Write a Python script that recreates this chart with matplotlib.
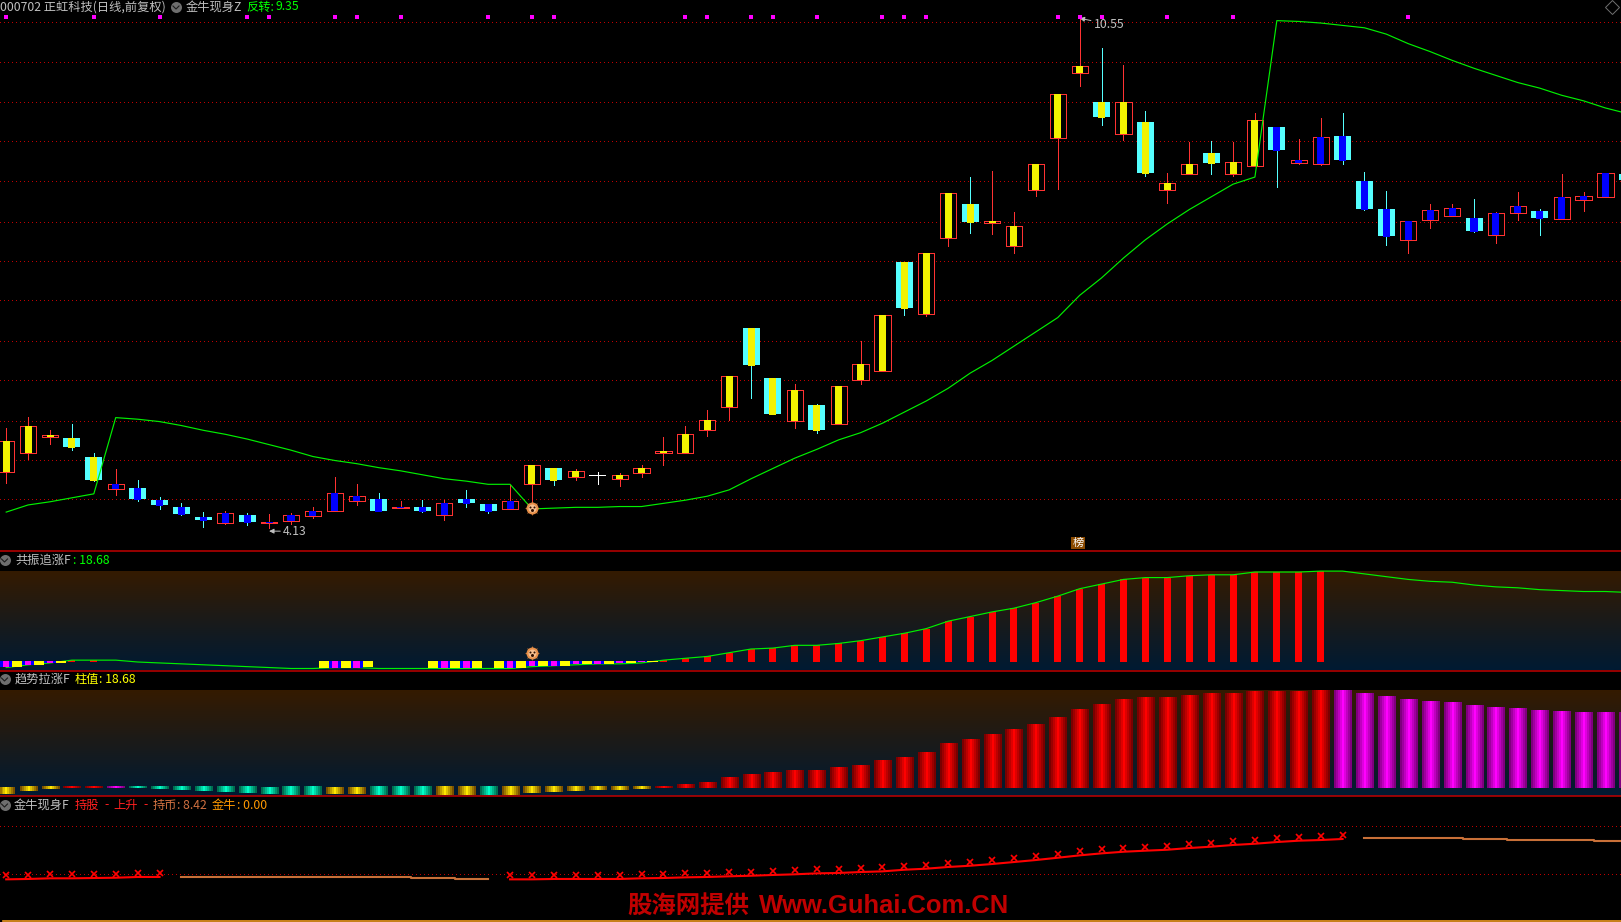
import numpy as np
import matplotlib
matplotlib.use('Agg')
import matplotlib.pyplot as plt
from matplotlib.transforms import offset_copy

plt.rcParams['font.family'] = ['Noto Sans CJK SC', 'DejaVu Sans']

# ---- main panel, prices
high = [5.39,5.53,5.37,5.44,5.08,4.87,4.73,4.52,4.44,4.33,4.35,4.32,4.30,4.32,4.40,4.77,4.69,4.57,4.47,4.48,4.48,4.61,4.43,4.67,4.92,
        4.88,4.87,4.83,4.82,4.92,5.27,5.41,5.61,6.04,6.65,6.02,5.94,5.69,5.92,6.48,6.81,7.48,7.59,8.35,8.55,8.63,8.11,8.71,9.60,10.55,
        10.18,9.96,9.38,8.60,8.99,9.00,8.99,9.36,9.18,9.03,9.29,9.36,8.61,8.37,8.00,8.21,8.21,8.27,8.11,8.36,8.15,8.59,8.36,8.60,8.59]
low = [4.70,5.00,5.19,5.11,4.72,4.54,4.47,4.37,4.29,4.14,4.18,4.17,4.13,4.18,4.25,4.34,4.42,4.34,4.38,4.33,4.23,4.39,4.32,4.37,4.45,
       4.67,4.73,4.69,4.66,4.77,4.92,5.07,5.29,5.49,5.77,5.56,5.39,5.32,5.44,5.94,6.11,6.81,6.80,7.68,7.84,7.83,7.59,8.31,8.40,9.70,
       9.21,9.02,8.56,8.22,8.59,8.59,8.56,8.69,8.42,8.71,8.70,8.71,8.13,7.69,7.59,7.91,8.06,7.86,7.72,8.01,7.82,8.02,8.12,8.30,8.51]
body_top = [5.22,5.41,5.30,5.26,5.03,4.69,4.63,4.48,4.39,4.27,4.32,4.29,4.20,4.29,4.35,4.57,4.53,4.49,4.40,4.39,4.45,4.49,4.43,4.47,4.92,
            4.88,4.85,4.80,4.80,4.88,5.10,5.31,5.49,6.04,6.65,6.02,5.87,5.68,5.92,6.19,6.81,7.48,7.59,8.35,8.21,8.00,7.93,8.71,9.60,9.95,
            9.49,9.50,9.24,8.47,8.71,8.85,8.74,9.27,9.18,8.76,9.05,9.07,8.50,8.15,8.00,8.13,8.16,8.03,8.10,8.18,8.12,8.30,8.31,8.60,8.59]
body_bot = [4.84,5.08,5.27,5.15,4.74,4.62,4.49,4.42,4.30,4.23,4.19,4.20,4.19,4.22,4.28,4.34,4.47,4.35,4.38,4.35,4.29,4.45,4.34,4.37,4.69,
            4.73,4.77,4.78,4.75,4.82,5.07,5.07,5.37,5.66,6.18,5.56,5.48,5.37,5.44,6.00,6.11,6.90,6.82,7.78,7.98,7.97,7.68,8.39,9.04,9.86,
            9.31,9.09,8.60,8.39,8.59,8.73,8.59,8.69,8.89,8.73,8.71,8.76,8.15,7.81,7.76,8.01,8.06,7.87,7.82,8.10,8.03,8.02,8.26,8.30,8.51]
# r = up, c = down, w = flat
body_kind = ("rrrcc" "rcccc" "rcrrr" "rrcrc" "rccrr" "crwrr" "rrrrc" "crcrr"
             "rcrrc" "rrrrr" "crcrr" "crrcr" "rcccr" "rrcrr" "crrrc")
# y = yellow core, b = blue core
core_kind = ("yyyyy" "bbbbb" "bbbbb" "bbbbb" "bbbby" "yyyyy" "yyyyy" "yyyyy"
             "yyyyy" "yyyyy" "yyyyy" "yyybb" "bbbbb" "bbbbb" "bbbbb")
fanzhuan = [4.33,4.42,4.46,4.51,4.56,5.52,5.50,5.47,5.42,5.36,5.31,5.25,5.18,5.11,5.03,4.98,4.94,4.89,4.85,4.80,4.75,4.72,4.68,4.68,4.37,
            4.38,4.39,4.39,4.40,4.40,4.44,4.48,4.53,4.61,4.75,4.88,5.01,5.12,5.24,5.33,5.45,5.59,5.73,5.89,6.08,6.24,6.42,6.60,6.78,7.06,
            7.28,7.53,7.76,7.96,8.14,8.30,8.46,8.55,10.52,10.51,10.49,10.46,10.43,10.35,10.23,10.13,10.02,9.92,9.83,9.74,9.67,9.58,9.51,9.42,9.35]
top_marks = [0,4,7,11,12,15,16,18,22,24,25,31,32,34,35,37,40,41,42,48,49,50,53,56,64]
main_grid = [10.50,10.00,9.49,9.00,8.50,7.99,7.49,7.00,6.49,5.99,5.48,4.98,4.49]

# ---- 共振追涨F / 趋势拉涨F share the same series
trend = [-1.47,-0.74,-0.25,0.49,0.49,0.49,0.00,-0.25,-0.49,-0.74,
         -0.98,-1.23,-1.47,-1.72,-1.72,-1.47,-1.47,-1.72,-1.72,-1.72,
         -1.72,-1.72,-1.72,-1.72,-1.23,-0.98,-0.74,-0.49,-0.49,-0.25,
         0.49,0.98,1.47,2.46,3.44,3.69,4.42,4.42,4.92,5.65,
         6.64,7.62,8.85,10.82,12.04,13.27,14.26,15.73,17.45,19.42,
         20.65,21.88,22.37,22.37,22.86,23.11,23.11,23.84,23.84,23.84,
         24.09,24.09,23.35,22.61,21.88,21.38,21.14,20.40,19.91,19.66,19.17,18.93,18.68,18.68,18.44]
trend_kind = ("gggrr" "mtttt" "ttttt" "ggttt" "ggtgg" "ggggg"
              "rrrrr" "rrrrr" "rrrrr" "rrrrr" "rrrrr" "rrrrr" "rmmmm" "mmmmm" "mmmmm")
block_magenta_x = [0,1,2,15,16,20,21,23,24,25,26,27,28,29]
block_magenta_v = [-1.59,-1.06,-0.53,-1.86,-1.86,-1.86,-1.86,-1.86,-1.33,-1.33,-0.80,-0.80,-0.53,-0.27]
block_yellow_x = [0.5,1.5,2.5,14.5,15.5,16.5,19.5,20.5,21.5,22.5,23.5,24.5,25.5,26.5,27.5,28.5,29.5]
block_yellow_v = [-1.59,-1.06,-0.53,-1.86,-1.86,-1.59,-1.86,-1.86,-1.86,-1.86,-1.86,-1.33,-1.33,-0.80,-0.80,-0.53,-0.27]

# ---- 金牛现身F
hold = [4.40,4.44,4.51,4.51,4.54,4.57,4.65,4.65,
        4.65,4.65,4.65,4.65,4.65,4.65,4.65,4.65,4.65,4.65,4.65,4.54,4.54,4.44,4.44,
        4.40,4.40,4.44,4.44,4.44,4.44,4.51,4.54,4.61,4.65,4.72,4.78,4.86,4.93,5.03,5.07,5.17,5.24,5.41,5.52,5.70,5.83,6.01,
        6.22,6.43,6.67,6.92,7.13,7.30,7.41,7.51,7.69,7.83,8.01,8.14,8.32,8.46,8.53,8.64,
        8.74,8.74,8.74,8.74,8.74,8.64,8.64,8.53,8.53,8.53,8.53,8.42,8.42]
hold_segments = [(0,7,'red'),(8,22,'brown'),(23,61,'red'),(62,74,'brown')]
hold_grid = [10,5]

W, H = 1621, 922
PX = 1 / 100 * 72   # one pixel in points
RED = '#ff3232'
CYAN = '#55ffff'
GRID = '#c00000'
GREEN = '#00f000'


def panel(top, bottom, ylim):
    ax = fig.add_axes([0, 1 - bottom / H, 1, (bottom - top) / H])
    ax.set_xlim(-0.283, 73.71)
    ax.set_ylim(*ylim)
    ax.axis('off')
    return ax


def background(ax):
    c0 = np.array([0x35, 0x1b, 0x00]) / 255
    c1 = np.array([0x00, 0x1a, 0x33]) / 255
    t = np.linspace(0, 1, 100)[:, None, None]
    img = c0[None, None, :] * (1 - t) + c1[None, None, :] * t
    x0, x1 = ax.get_xlim()
    y0, y1 = ax.get_ylim()
    ax.imshow(img, extent=(x0, x1, y0, y1), aspect='auto', zorder=0)
    ax.set_xlim(x0, x1)
    ax.set_ylim(y0, y1)


def dotted(ax, g):
    ax.axhline(g, color=GRID, lw=PX, linestyle=(0, (1, 3)), antialiased=False, zorder=1)


def sun(ax, x, y):
    ax.plot([x], [y], marker=(8, 1, 0), ms=15 * PX, color='#d07a30', mew=0, zorder=6)
    ax.plot([x], [y], marker='o', ms=12 * PX, color='#e8904a', mew=0, zorder=7)
    ax.plot([x], [y], marker='o', ms=8 * PX, color='#f6c090', mew=0, zorder=7)
    for dx, dy, s in [(-2, 1, 2), (2, 1, 2), (0, -2, 3)]:
        tr = offset_copy(ax.transData, fig=fig, x=dx, y=dy, units='dots')
        ax.plot([x], [y], marker='o', ms=s * PX, color='#301000', mew=0, transform=tr, zorder=8)


fig = plt.figure(figsize=(W / 100, H / 100), dpi=100, facecolor='black')

# ---- main candles
ax1 = panel(0, 551, (3.84, 10.78))
for g in main_grid:
    dotted(ax1, g)

x = np.arange(len(high))
wick_col = [CYAN if k == 'c' else ('white' if k == 'w' else RED) for k in body_kind]
ax1.vlines(x, low, high, colors=wick_col, lw=PX, antialiased=False, zorder=2)
ax1.plot(x, fanzhuan, color=GREEN, lw=0.85, zorder=5)
for i in x:
    kind = body_kind[i]
    h = body_top[i] - body_bot[i]
    if kind == 'r':
        ax1.bar(i, h, bottom=body_bot[i], width=0.74, facecolor='black', edgecolor=RED, lw=PX,
                antialiased=False, zorder=3)
    elif kind == 'c':
        ax1.bar(i, h, bottom=body_bot[i], width=0.776, facecolor=CYAN, edgecolor='none', antialiased=False, zorder=3)
    else:
        ax1.bar(i, h, bottom=body_bot[i], width=0.776, facecolor='white', edgecolor='none', antialiased=False, zorder=3)
        continue
    core = '#f2f200' if core_kind[i] == 'y' else '#0000ff'
    extra = 0.0126 if kind == 'c' else 0
    ax1.bar(i, h + extra, bottom=body_bot[i] - extra, width=0.32, facecolor=core, edgecolor='none',
            antialiased=False, zorder=4)
ax1.plot(top_marks, [10.57] * len(top_marks), 's', color='#ff00ff', ms=3.5 * PX, mew=0, zorder=5)
sun(ax1, 24, 4.38)
arrow = dict(arrowstyle='-|>', color='#c0c0c0', lw=0.7, shrinkA=0, shrinkB=0, mutation_scale=7)
ax1.annotate('4.13', xy=(12, 4.09), xytext=(14, 0), textcoords='offset pixels', color='#c0c0c0', fontsize=8.8,
             va='center', arrowprops=arrow)
ax1.annotate('10.55', xy=(49, 10.55), xytext=(14, -6), textcoords='offset pixels', color='#c0c0c0', fontsize=8.8,
             va='center', arrowprops=arrow)

# ---- 共振追涨F
ax2 = panel(571, 670.3, (-2.2, 24.115))
background(ax2)
red_idx = [i for i, k in enumerate(trend_kind) if k == 'r']
ax2.plot(x, trend, color=GREEN, lw=0.85, zorder=4, clip_on=False)
ax2.bar(red_idx, [trend[i] for i in red_idx], width=0.32, color='#ff0000', antialiased=False, zorder=3)
ax2.bar(block_magenta_x, block_magenta_v, bottom=0.265, width=0.6, color='#0000ff', antialiased=False, zorder=5)
ax2.bar(block_yellow_x, block_yellow_v, bottom=0.265, width=0.46, color='#ffff00', antialiased=False, zorder=6)
ax2.bar(block_magenta_x, block_magenta_v, bottom=0.265, width=0.3, color='#ff00ff', antialiased=False, zorder=7)
sun(ax2, 24, 2.3)

# ---- 趋势拉涨F
ax3 = panel(690, 796, (-1.97, 24.09))
background(ax3)
xl, yl = ax3.get_xlim(), ax3.get_ylim()
grad = {'r': ('#7a0000', '#ff0000'), 'm': ('#80007f', '#ff00ff'),
        't': ('#006e50', '#00ffc8'), 'g': ('#7a5000', '#ffe800')}
for i, v in enumerate(trend):
    edge, center = [np.array(matplotlib.colors.to_rgb(c)) for c in grad[trend_kind[i]]]
    bottom = 0.25 if v <= 0 else 0
    ax3.bar(i, v - bottom, bottom=bottom, width=0.776, color=edge, zorder=2)
    t = 1 - np.abs(np.linspace(-1, 1, 9))[None, :, None]
    img = edge[None, None, :] * (1 - t) + center[None, None, :] * t
    ax3.imshow(img, extent=(i - 0.388, i + 0.388, min(bottom, v), max(bottom, v)),
               aspect='auto', interpolation='nearest', zorder=3)
ax3.set_xlim(xl)
ax3.set_ylim(yl)

# ---- 金牛现身F
ax4 = panel(797, 921, (0.025, 13.05))
for g in hold_grid:
    dotted(ax4, g)
up = offset_copy(ax4.transData, fig=fig, x=0, y=4, units='dots')
for first, last, kind in hold_segments:
    xs = x[first:last + 1]
    ys = hold[first:last + 1]
    if kind == 'red':
        ax4.plot(xs, ys, color='#ff0000', lw=1.5, zorder=2)
        ax4.plot(xs, ys, 'x', color='#ff0000', ms=5, mew=1.2, transform=up, zorder=3)
    else:
        ax4.plot(xs, ys, color='#c87038', lw=1.5, drawstyle='steps-mid', zorder=2)

# ---- titles, separators and icons in pixel space
ov = fig.add_axes([0, 0, 1, 1], facecolor='none')
ov.set_xlim(0, W)
ov.set_ylim(H, 0)
ov.axis('off')
for yy in [551.3, 670.5, 796]:
    ov.plot([0, W], [yy, yy], color='#c00000', lw=1.1)
ov.plot([3, W], [921, 921], color='#f09a20', lw=1.2)


def label(px, py, s, color='#c0c0c0', size=8.8, **kw):
    ov.text(px, py, s, color=color, fontsize=size, va='center', ha='left', **kw)


def chevron(px, py):
    ov.plot([px], [py], 'o', color='#6e6e6e', ms=11 * PX, mew=0)
    ov.plot([px - 3, px, px + 3], [py - 1, py + 2, py - 1], color='#1c1c1c', lw=0.8)


label(0, 7, '000702 正虹科技(日线,前复权)')
chevron(176, 7)
label(186, 7, '金牛现身Z')
label(246, 7, '反转:', color='#00ff00')
label(276, 7, '9.35', color='#00ff00')
ov.plot([1612], [7], marker='D', ms=7, mfc='none', mec='#707070', mew=0.7)

chevron(4.5, 560)
label(15, 560, '共振追涨F')
label(73, 560, ': 18.68', color='#00ff00')

chevron(4.5, 679)
label(15, 679, '趋势拉涨F')
label(75, 679, '柱值', color='#ffff00')
label(99, 679, ': 18.68', color='#ffff00')

chevron(4.5, 805)
label(14, 805, '金牛现身F')
label(75, 805, '持股', color='#ff2020')
label(104, 805, '-', color='#ff2020')
label(113, 805, '上升', color='#ff2020')
label(143, 805, '-', color='#ff2020')
label(153, 805, '持币', color='#d07040')
label(177, 805, ': 8.42', color='#d07040')
label(212, 805, '金牛', color='#ff9900')
label(237, 805, ': 0.00', color='#ff9900')

ov.text(1078, 543, '榜', color='white', fontsize=8, ha='center', va='center',
        bbox=dict(facecolor='#8a4a00', edgecolor='none', pad=1))
label(627, 907, '股海网提供', color='#c00000', size=17.6, fontweight='bold')
label(759, 906, 'Www.Guhai.Com.CN', color='#c00000', size=18.4, fontweight='bold', family=['Liberation Sans'])

fig.savefig('out.png', dpi=100, facecolor='black')
